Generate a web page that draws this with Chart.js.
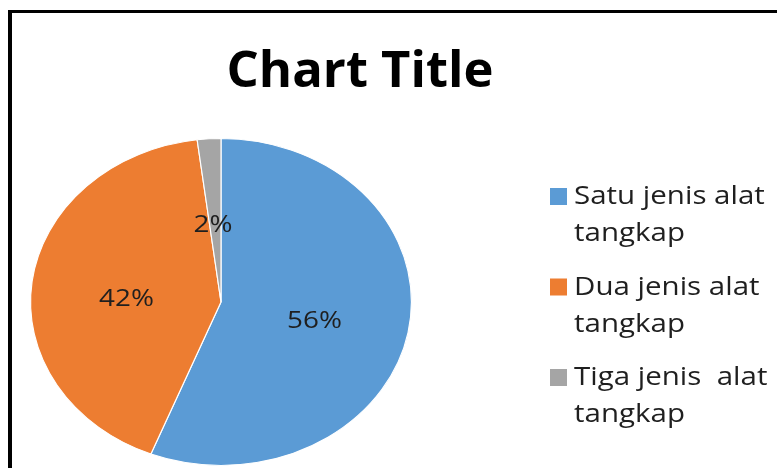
<!DOCTYPE html>
<html>
<head>
<meta charset="utf-8">
<title>Chart Title</title>
<script src="https://cdn.jsdelivr.net/npm/chart.js@4/dist/chart.umd.min.js"></script>
<style>
  html, body { margin: 0; padding: 0; background: #fff; }
  #wrap { position: relative; width: 777px; height: 468px; overflow: hidden; }
  #pie { position: absolute; left: 0; top: 0; }
  #frame {
    position: absolute; left: 8px; top: 10px; right: -20px; bottom: -20px;
    border-left: 4px solid #000; border-top: 3px solid #000;
    pointer-events: none;
  }
</style>
</head>
<body>
<div id="wrap">
  <canvas id="pie" width="777" height="468"></canvas>
  <div id="frame"></div>
</div>
<script>
// Data
const judul = 'Chart Title';
const kategori = [
  ['Satu jenis alat', 'tangkap'],
  ['Dua jenis alat', 'tangkap'],
  ['Tiga jenis  alat', 'tangkap']
];
const persen = [56, 42, 2];
const warna = ['#5b9bd5', '#ed7d31', '#a5a5a5'];

const FONT = '"Open Sans", Lato, sans-serif';
const TEKS = '#1f1f1f';

// pie is drawn as a circle then stretched sideways into an ellipse
const CX = 221;
const STRETCH = 191 / 164;

// text drawn a little wider than the font, like the rest of the figure
function tulis(c, t, x, y, sx) {
  c.save();
  c.translate(x, y);
  c.scale(sx, 1);
  c.fillText(t, 0, 0);
  c.restore();
}

const elips = {
  id: 'elips',
  beforeDatasetsDraw(chart) {
    const c = chart.ctx;
    c.save();
    c.translate(CX, 0);
    c.scale(STRETCH, 1);
    c.translate(-CX, 0);
  },
  afterDatasetsDraw(chart) {
    chart.ctx.restore();
  }
};

// percentage text on each slice
const labelPersen = {
  id: 'labelPersen',
  afterDatasetsDraw(chart) {
    const c = chart.ctx;
    const arcs = chart.getDatasetMeta(0).data;
    const geser = [[0, 4], [0, 7], [-2, 5]];
    c.save();
    c.font = '24px ' + FONT;
    c.fillStyle = TEKS;
    c.textAlign = 'center';
    c.textBaseline = 'middle';
    arcs.forEach((arc, i) => {
      const p = arc.tooltipPosition();
      const x = CX + (p.x - CX) * STRETCH + geser[i][0];
      tulis(c, persen[i] + '%', x, p.y + geser[i][1], 1.16);
    });
    c.restore();
  }
};

// title and the legend at the right (two lines per entry)
const teksLuar = {
  id: 'teksLuar',
  afterDraw(chart) {
    const c = chart.ctx;
    c.save();
    c.fillStyle = '#000';
    c.font = 'bold 50px ' + FONT;
    c.textAlign = 'center';
    c.textBaseline = 'alphabetic';
    tulis(c, judul, 360, 87, 1.015);

    c.font = '25px ' + FONT;
    c.textBaseline = 'middle';
    c.textAlign = 'left';
    kategori.forEach((baris, i) => {
      const y0 = 197 + i * 90.5;
      c.fillStyle = warna[i];
      c.fillRect(550, y0 - 9, 17, 17);
      c.fillStyle = TEKS;
      baris.forEach((t, j) => tulis(c, t, 574, y0 + j * 37, 1.18));
    });
    c.restore();
  }
};

new Chart(document.getElementById('pie'), {
  type: 'pie',
  data: {
    labels: kategori.map(k => k.join(' ')),
    datasets: [{
      data: persen,
      backgroundColor: warna,
      borderColor: '#ffffff',
      borderWidth: 1
    }]
  },
  options: {
    responsive: false,
    animation: false,
    layout: { padding: { left: 57, right: 392, top: 138, bottom: 2 } },
    plugins: {
      legend: { display: false },
      tooltip: { enabled: false },
      title: { display: false }
    }
  },
  plugins: [elips, labelPersen, teksLuar]
});
</script>
</body>
</html>
